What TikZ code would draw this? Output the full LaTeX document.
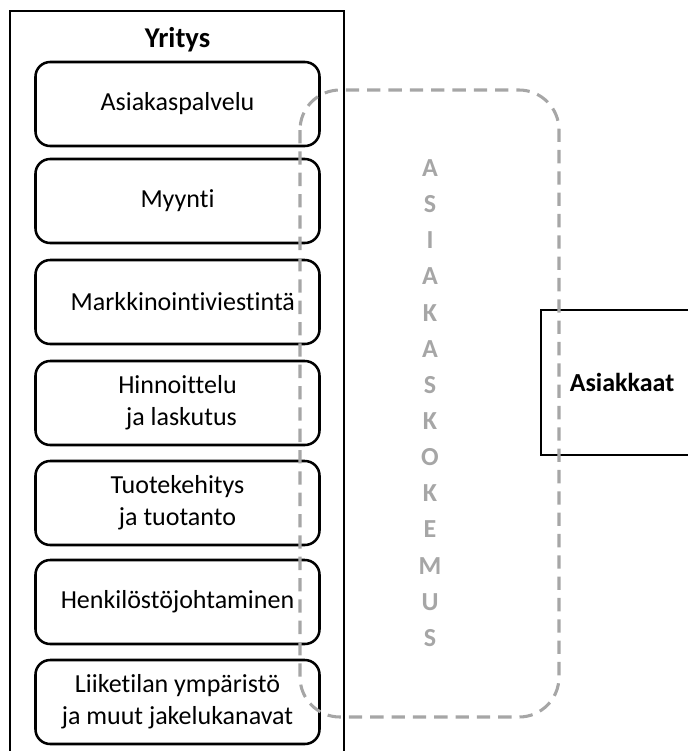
\documentclass[tikz,border=0pt]{standalone}
\usepackage{fontspec}
\setmainfont{Carlito}[Ligatures=NoCommon]
\definecolor{dashgray}{HTML}{A6A6A6}
\begin{document}
\begin{tikzpicture}[x=0.75pt,y=-0.75pt,
  unit/.style={draw, line width=1.9pt, rounded corners=11pt, minimum width=213pt, minimum height=63pt, align=center, inner sep=0pt, font=\fontsize{19.5}{24}\selectfont},
  frame/.style={draw, line width=1.6pt},
  lbl/.style={font=\fontsize{19.5}{24}\selectfont\bfseries},
  letter/.style={text=dashgray, font=\fontsize{19.5}{24}\selectfont\bfseries},
  experience/.style={draw=dashgray, line width=2.3pt, dash pattern=on 10pt off 6pt, rounded corners=30pt}]
\useasboundingbox (0,0) rectangle (688,751);
\clip (0,0) rectangle (688,751);
\draw[frame] (10,11) rectangle (344,780);
\node[lbl, font=\fontsize{21.5}{24}\selectfont\bfseries] (yritys) at (177.5,40) {Yritys};
\node[unit] (u1) at (177.5,104) {Asiakaspalvelu};
\node[unit] (u2) at (177.5,201) {Myynti};
\node[unit] (u3) at (177.5,302) {\hspace*{8pt}Markkinointiviestintä};
\node[unit] (u4) at (177.5,403) {Hinnoittelu\\\hspace*{6pt}ja laskutus};
\node[unit] (u5) at (177.5,503) {Tuotekehitys\\ja tuotanto};
\node[unit] (u6) at (177.5,602) {Henkilöstöjohtaminen};
\node[unit] (u7) at (177.5,702) {Liiketilan ympäristö\\ja muut jakelukanavat};
\draw[frame] (541,310) rectangle (720,455);
\node[lbl] (asiakkaat) at (622,382) {Asiakkaat};
\draw[experience] (300,90) rectangle (559,717);
\foreach \ch [count=\i from 0] in {A,S,I,A,K,A,S,K,O,K,E,M,U,S}
  \node[letter] (l\i) at (430,{168+36.15*\i}) {\ch};
\end{tikzpicture}
\end{document}
